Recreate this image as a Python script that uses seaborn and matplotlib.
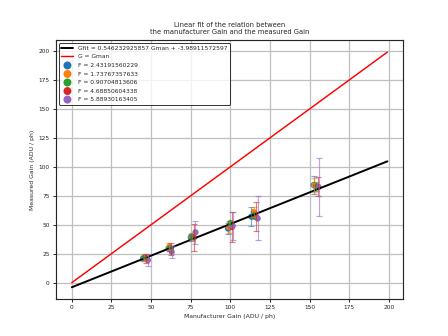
import numpy as np
import matplotlib
matplotlib.use("Agg")
import matplotlib.pyplot as plt
import seaborn as sns

# fit result and the manufacturer range
slope = 0.546232925857
intercept = -3.98911572597
gman = np.arange(200)

# one series per illumination factor F
f_values = ["2.43191560229", "1.73767357633", "0.90704813606", "4.68850604338", "5.88930163405"]
colors = sns.color_palette("tab10")[:5]

gain_x = [
    [45.0, 61.0, 75.0, 98.5, 113.2, 152.5],
    [45.5, 61.5, 75.5, 99.0, 114.7, 153.0],
    [46.0, 62.0, 76.0, 100.0, 115.0, 154.0],
    [47.0, 62.5, 77.0, 101.0, 116.0, 155.0],
    [48.0, 63.0, 78.0, 101.5, 117.2, 155.6],
]
gain_y = [
    [21.0, 29.5, 39.0, 46.7, 57.0, 84.2],
    [21.5, 31.0, 40.0, 48.0, 61.0, 84.0],
    [22.0, 30.0, 40.0, 51.5, 58.0, 83.0],
    [21.0, 29.0, 39.0, 48.0, 56.8, 83.0],
    [19.5, 26.5, 43.5, 49.0, 55.4, 82.5],
]
gain_err = [
    [2.0, 2.0, 3.0, 4.5, 8.0, 8.0],
    [3.0, 3.0, 3.0, 5.0, 4.0, 6.0],
    [1.0, 1.0, 2.0, 2.0, 3.0, 4.0],
    [4.0, 5.0, 12.0, 13.0, 12.4, 8.0],
    [5.0, 5.0, 10.0, 12.0, 19.0, 25.0],
]

sns.set_style("ticks")
plt.rcParams["font.family"] = ["DejaVu Sans"]

fig, ax = plt.subplots(figsize=(6.4, 4.8), dpi=70)
ax.grid(True, color="#c0c0c0", linewidth=1.3)
ax.set_axisbelow(True)

ax.plot(gman, slope * gman + intercept, color="black", lw=2,
        label=f"Gfit = {slope} Gman + {intercept}")
ax.plot(gman, gman, color="red", lw=1.5, label="G = Gman")

for xs, ys, es, f, c in zip(gain_x, gain_y, gain_err, f_values, colors):
    ax.errorbar(xs, ys, yerr=es, fmt="none", ecolor=c, alpha=0.6,
                capsize=3.5, elinewidth=1.2, capthick=1.2)
    sns.scatterplot(x=xs, y=ys, color=c, s=40, edgecolor="none",
                    label=f"F = {f}", ax=ax)

ax.set_title("Linear fit of the relation between\nthe manufacturer Gain and the measured Gain",
             fontsize=7)
ax.set_xlabel("Manufacturer Gain (ADU / ph)", fontsize=6.3)
ax.set_ylabel("Measured Gain (ADU / ph)", fontsize=6.3)
ax.tick_params(labelsize=6, length=3, width=1)
ax.set_xticks(np.arange(0, 201, 25))
ax.set_yticks(np.arange(0, 201, 25))
for s in ax.spines.values():
    s.set_linewidth(1.2)

ax.legend(loc="upper left", fontsize=6.2, frameon=True, edgecolor="black",
          borderpad=0.4, labelspacing=0.55, handlelength=2.0, markerscale=1.3)

fig.savefig("out.png", dpi=70)
